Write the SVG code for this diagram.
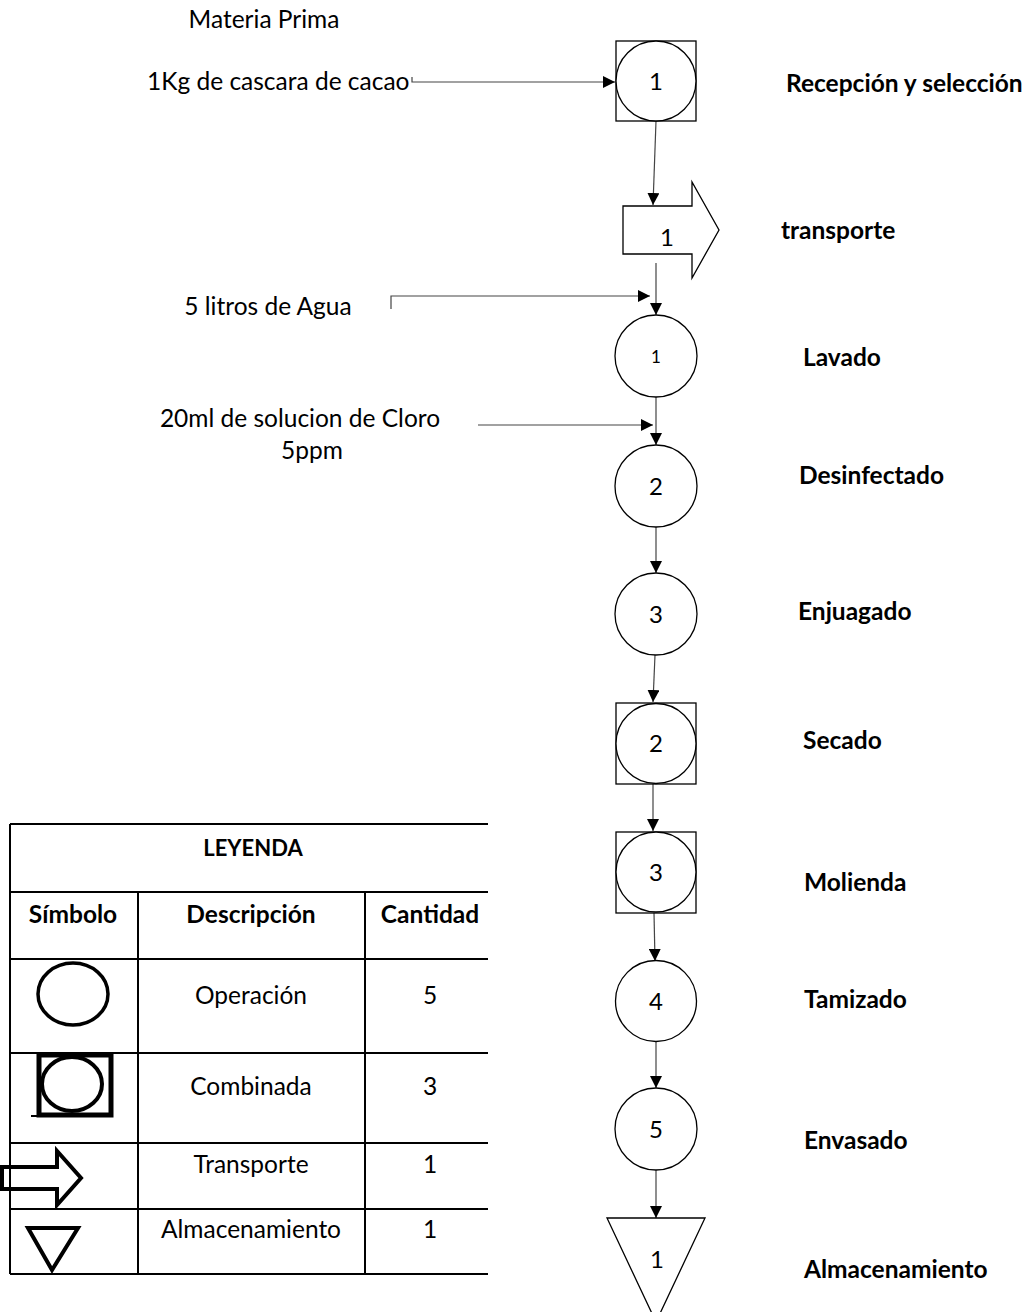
<svg xmlns="http://www.w3.org/2000/svg" width="1035" height="1312" viewBox="0 0 1035 1312">
<style>
  text { font-family: Lato, "Liberation Sans", sans-serif; fill: #000; }
  .lbl { font-size: 24.5px; }
  .bold { font-size: 24.5px; font-weight: bold; }
  .num { font-size: 24px; text-anchor: middle; }
  .shape { fill: #fff; stroke: #000; stroke-width: 1.3; }
  .conn { fill: none; stroke: #444; stroke-width: 1.2; }
  .grid { stroke: #000; stroke-width: 2; fill: none; }
  .sym { fill: none; stroke: #000; stroke-width: 4; }
  .mid { text-anchor: middle; }
</style>
<defs>
  <marker id="ah" markerUnits="userSpaceOnUse" markerWidth="12" markerHeight="12" refX="12" refY="6" orient="auto">
    <path d="M0,0 L12,6 L0,12 z" fill="#000"/>
  </marker>
</defs>
<rect width="1035" height="1312" fill="#fff"/>

<g id="inputs">
  <text class="lbl mid" x="264" y="28">Materia Prima</text>
  <text class="lbl" x="147" y="90">1Kg de cascara de cacao</text>
  <text class="lbl mid" x="268" y="315">5 litros de Agua</text>
  <text class="lbl mid" x="300" y="427">20ml de solucion de Cloro</text>
  <text class="lbl mid" x="312" y="459">5ppm</text>
</g>

<g id="connectors">
  <polyline class="conn" points="412,77 412,82 615,82" marker-end="url(#ah)"/>
  <line class="conn" x1="656" y1="121" x2="653" y2="205" marker-end="url(#ah)"/>
  <line class="conn" x1="656" y1="263" x2="656" y2="315" marker-end="url(#ah)"/>
  <polyline class="conn" points="391,309 391,296 650,296" marker-end="url(#ah)"/>
  <line class="conn" x1="656" y1="397" x2="656" y2="445" marker-end="url(#ah)"/>
  <line class="conn" x1="478" y1="425" x2="653" y2="425" marker-end="url(#ah)"/>
  <line class="conn" x1="656" y1="527" x2="656" y2="573" marker-end="url(#ah)"/>
  <line class="conn" x1="655" y1="655" x2="653" y2="702" marker-end="url(#ah)"/>
  <line class="conn" x1="653" y1="784" x2="653" y2="831" marker-end="url(#ah)"/>
  <line class="conn" x1="654" y1="913" x2="655" y2="961" marker-end="url(#ah)"/>
  <line class="conn" x1="656" y1="1042" x2="656" y2="1088" marker-end="url(#ah)"/>
  <line class="conn" x1="656" y1="1170" x2="656" y2="1218" marker-end="url(#ah)"/>
</g>

<g id="n1-recepcion">
  <rect class="shape" x="616" y="41" width="80" height="80"/>
  <circle class="shape" cx="656" cy="81" r="40"/>
  <text class="num" x="656" y="90">1</text>
  <text class="bold" x="786" y="92">Recepción y selección</text>
</g>
<g id="n2-transporte">
  <polygon class="shape" points="623,206 692,206 692,182 719,230 692,278 692,254 623,254"/>
  <text class="num" x="667" y="246">1</text>
  <text class="bold" x="781" y="239">transporte</text>
</g>
<g id="n3-lavado">
  <circle class="shape" cx="656" cy="356" r="41"/>
  <text class="mid" style="font-size:17px" x="656" y="363">1</text>
  <text class="bold" x="803" y="366">Lavado</text>
</g>
<g id="n4-desinfectado">
  <circle class="shape" cx="656" cy="486" r="41"/>
  <text class="num" x="656" y="495">2</text>
  <text class="bold" x="799" y="484">Desinfectado</text>
</g>
<g id="n5-enjuagado">
  <circle class="shape" cx="656" cy="614" r="41"/>
  <text class="num" x="656" y="623">3</text>
  <text class="bold" x="798" y="620">Enjuagado</text>
</g>
<g id="n6-secado">
  <rect class="shape" x="616" y="703" width="80" height="81"/>
  <circle class="shape" cx="656" cy="743.5" r="40"/>
  <text class="num" x="656" y="752">2</text>
  <text class="bold" x="803" y="749">Secado</text>
</g>
<g id="n7-molienda">
  <rect class="shape" x="616" y="832" width="80" height="81"/>
  <circle class="shape" cx="656" cy="872" r="40"/>
  <text class="num" x="656" y="881">3</text>
  <text class="bold" x="804" y="891">Molienda</text>
</g>
<g id="n8-tamizado">
  <circle class="shape" cx="656" cy="1001" r="40.5"/>
  <text class="num" x="656" y="1010">4</text>
  <text class="bold" x="804" y="1008">Tamizado</text>
</g>
<g id="n9-envasado">
  <circle class="shape" cx="656" cy="1129" r="41"/>
  <text class="num" x="656" y="1138">5</text>
  <text class="bold" x="804" y="1149">Envasado</text>
</g>
<g id="n10-almacenamiento">
  <polygon class="shape" points="607,1218 705,1218 656,1322"/>
  <text class="num" x="657" y="1268">1</text>
  <text class="bold" x="804" y="1278">Almacenamiento</text>
</g>

<g id="legend">
  <path class="grid" d="M10,824 H488 M10,824 V1274 M10,892 H488 M10,959 H488 M10,1053 H488 M10,1143 H488 M10,1209 H488 M10,1274 H488 M138,892 V1274 M365,892 V1274"/>
  <text class="bold mid" x="253" y="856" style="font-size:22px">LEYENDA</text>
  <text class="bold mid" x="73" y="923">Símbolo</text>
  <text class="bold mid" x="251" y="923">Descripción</text>
  <text class="bold mid" x="430" y="923">Cantidad</text>
  <ellipse class="sym" cx="73" cy="994" rx="35" ry="31" style="stroke-width:3.5"/>
  <text class="lbl mid" x="251" y="1004">Operación</text>
  <text class="lbl mid" x="430" y="1004">5</text>
  <rect class="sym" x="39" y="1055" width="72" height="60" style="stroke-width:5"/>
  <ellipse class="sym" cx="72" cy="1084" rx="30" ry="27"/>
  <line class="grid" x1="31" y1="1116" x2="113" y2="1116"/>
  <text class="lbl mid" x="251" y="1095">Combinada</text>
  <text class="lbl mid" x="430" y="1095">3</text>
  <polygon class="sym" points="2,1167 57,1167 57,1151 81,1178 57,1205 57,1189 2,1189"/>
  <text class="lbl mid" x="251" y="1173">Transporte</text>
  <text class="lbl mid" x="430" y="1173">1</text>
  <polygon class="sym" points="28,1228 78,1228 52,1270"/>
  <text class="lbl mid" x="251" y="1238">Almacenamiento</text>
  <text class="lbl mid" x="430" y="1238">1</text>
</g>
</svg>
